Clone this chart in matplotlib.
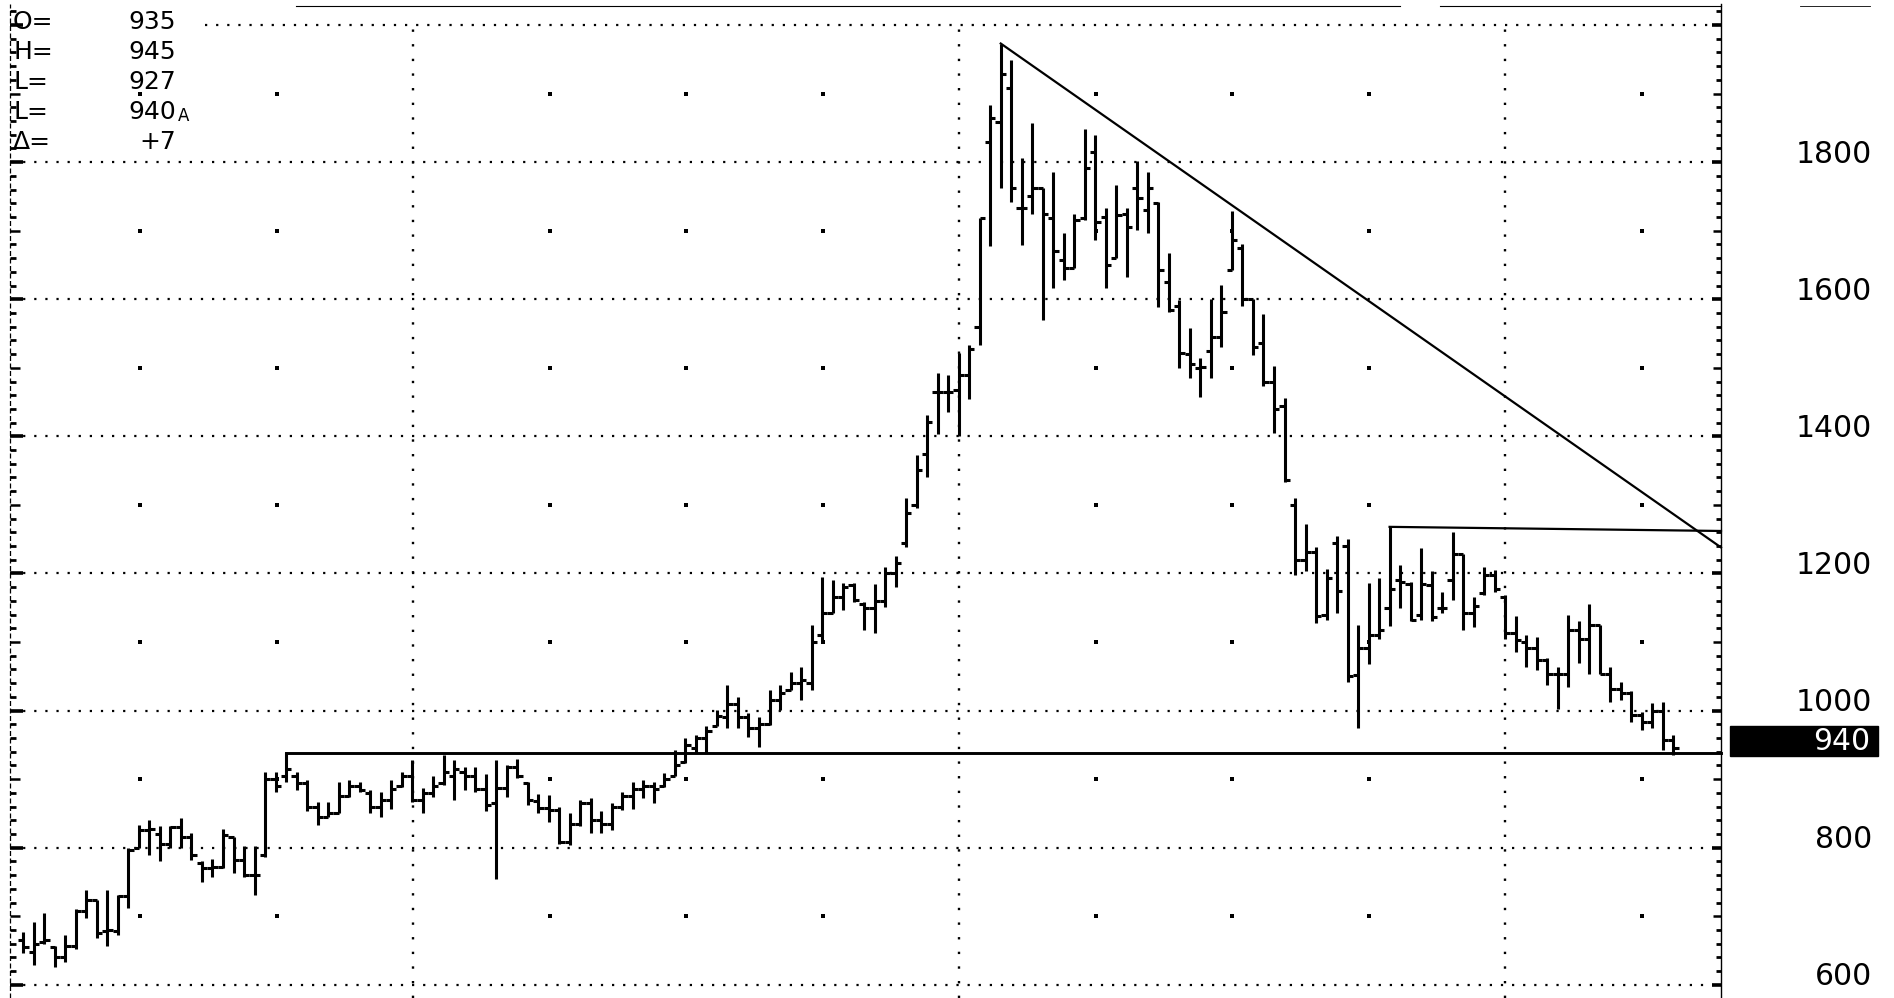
import matplotlib
matplotlib.use("Agg")
import matplotlib.pyplot as plt
from matplotlib.collections import LineCollection
from matplotlib.patches import Rectangle

# ---------------- data (weekly OHLC bars) ----------------
opens = [665, 648, 662, 655, 641, 657, 708, 724, 678, 678,
         730, 800, 826, 820, 805, 830, 815, 778, 770, 772,
         815, 782, 760, 790, 900, 905, 905, 895, 860, 845,
         850, 875, 890, 880, 860, 870, 890, 905, 870, 880,
         895, 905, 910, 905, 885, 865, 887, 918, 895, 868,
         858, 855, 808, 835, 865, 840, 835, 860, 875, 885,
         890, 890, 905, 925, 945, 960, 977, 990, 1010, 990,
         975, 980, 1015, 1030, 1040, 1040, 1110, 1142, 1165, 1183,
         1155, 1150, 1160, 1200, 1245, 1300, 1375, 1465, 1465, 1468,
         1490, 1560, 1830, 1859, 1908, 1733, 1750, 1762, 1718, 1657,
         1645, 1718, 1815, 1720, 1660, 1725, 1762, 1730, 1740, 1625,
         1590, 1520, 1500, 1525, 1545, 1643, 1675, 1600, 1536, 1480,
         1445, 1300, 1219, 1232, 1140, 1245, 1240, 1052, 1091, 1110,
         1150, 1190, 1185, 1140, 1183, 1150, 1190, 1229, 1142, 1171,
         1198, 1165, 1113, 1100, 1091, 1074, 1054, 1054, 1118, 1105,
         1125, 1054, 1032, 1025, 994, 984, 1000, 957]
highs = [677, 691, 705, 656, 673, 710, 738, 724, 738, 731,
         799, 833, 840, 831, 831, 843, 821, 780, 784, 828,
         816, 802, 802, 911, 911, 940, 911, 899, 867, 867,
         896, 899, 896, 884, 882, 899, 911, 928, 887, 904,
         935, 928, 918, 918, 908, 928, 921, 930, 896, 879,
         877, 860, 850, 870, 872, 853, 865, 882, 896, 899,
         896, 909, 943, 960, 964, 977, 1001, 1037, 1020, 996,
         991, 1030, 1037, 1057, 1064, 1125, 1195, 1190, 1186, 1186,
         1159, 1185, 1210, 1225, 1310, 1373, 1431, 1492, 1489, 1521,
         1533, 1718, 1883, 1973, 1949, 1806, 1857, 1762, 1786, 1696,
         1725, 1849, 1840, 1733, 1767, 1733, 1801, 1786, 1742, 1667,
         1599, 1558, 1514, 1601, 1621, 1728, 1680, 1600, 1578, 1503,
         1456, 1310, 1272, 1239, 1207, 1255, 1251, 1125, 1186, 1193,
         1268, 1212, 1187, 1237, 1203, 1173, 1261, 1229, 1166, 1210,
         1205, 1169, 1138, 1110, 1108, 1076, 1064, 1139, 1130, 1156,
         1125, 1064, 1042, 1028, 998, 1011, 1013, 964]
lows = [646, 629, 660, 626, 634, 653, 697, 668, 656, 673,
        712, 799, 789, 780, 799, 799, 782, 750, 758, 770,
        763, 758, 731, 787, 882, 896, 884, 853, 833, 845,
        850, 874, 882, 850, 845, 857, 889, 867, 850, 874,
        891, 870, 884, 882, 853, 754, 874, 901, 862, 850,
        838, 806, 804, 831, 821, 821, 826, 855, 857, 872,
        865, 889, 904, 923, 938, 938, 977, 974, 974, 962,
        947, 979, 1001, 1030, 1016, 1030, 1103, 1142, 1147, 1159,
        1118, 1113, 1151, 1180, 1238, 1295, 1341, 1404, 1436, 1400,
        1455, 1533, 1677, 1762, 1742, 1679, 1725, 1570, 1616, 1628,
        1645, 1716, 1686, 1616, 1660, 1633, 1701, 1696, 1589, 1582,
        1499, 1485, 1458, 1485, 1531, 1642, 1590, 1518, 1474, 1405,
        1333, 1198, 1203, 1128, 1132, 1143, 1042, 975, 1068, 1104,
        1123, 1149, 1131, 1132, 1130, 1142, 1161, 1118, 1122, 1168,
        1173, 1105, 1086, 1064, 1059, 1037, 1003, 1035, 1069, 1054,
        1054, 1013, 1015, 984, 972, 974, 943, 935]
closes = [655, 660, 665, 640, 657, 708, 724, 676, 680, 729,
          797, 826, 828, 805, 830, 815, 790, 770, 772, 818,
          782, 760, 760, 900, 890, 915, 895, 860, 845, 850,
          875, 890, 884, 860, 870, 885, 905, 870, 880, 890,
          910, 915, 905, 885, 862, 887, 918, 905, 870, 858,
          855, 808, 835, 865, 840, 835, 860, 875, 885, 890,
          885, 900, 920, 950, 960, 970, 992, 1010, 990, 975,
          980, 1015, 1025, 1040, 1045, 1100, 1142, 1165, 1180, 1162,
          1150, 1160, 1200, 1215, 1288, 1351, 1421, 1465, 1465, 1490,
          1528, 1718, 1864, 1929, 1762, 1733, 1762, 1725, 1670, 1645,
          1716, 1791, 1713, 1650, 1723, 1705, 1747, 1762, 1643, 1584,
          1521, 1506, 1501, 1545, 1582, 1686, 1600, 1530, 1480, 1440,
          1336, 1220, 1232, 1138, 1193, 1175, 1051, 1091, 1110, 1118,
          1177, 1187, 1132, 1185, 1137, 1149, 1229, 1142, 1152, 1198,
          1178, 1113, 1103, 1091, 1074, 1054, 1054, 1118, 1105, 1125,
          1054, 1032, 1025, 994, 984, 1000, 957, 945]

header_keys = ["O=", "H=", "L=", "L=", "\u0394="]
header_vals = ["935", "945", "927", "940", "+7"]
axis_labels = [600, 800, 1000, 1200, 1400, 1600, 1800]
last_label = "940"
support_level = 938
support_start = 25          # bar index where the support line starts
resist_start, resist_levels = 130, (1268, 1262)
trend_start, trend_levels = 93, (1973, 1238)

# ---------------- geometry helpers (pixel <-> data) ----------------
W, H = 1894, 998
X0, DX = 23.3, 10.51
Y0, DY = 25.0, 0.6856


def px2i(px):
    return (px - X0) / DX


def py2v(py):
    return 2000 - (py - Y0) / DY


fig = plt.figure(figsize=(W / 100, H / 100), dpi=100)
fig.patch.set_facecolor("white")
ax = fig.add_axes([0, 0, 1, 1])
ax.set_xlim(px2i(0), px2i(W))
ax.set_ylim(py2v(H), py2v(0))
ax.axis("off")

x_left_axis = px2i(10)
x_right_axis = px2i(1721)
ypx = 1 / DY            # one pixel in value units
xpx = 1 / DX            # one pixel in index units

# ---------------- grid ----------------
for lvl in range(600, 2001, 200):
    xs = px2i(205) if lvl == 2000 else x_left_axis + 2 * xpx
    ax.plot([xs, x_right_axis], [lvl, lvl], color="black", lw=1.6,
            ls=(0, (1, 4)), zorder=1)
majors = [37.1, 89.05, 141.0]
for xm in majors:
    ax.plot([xm, xm], [py2v(H), 2000], color="black", lw=1.7,
            ls=(0, (1, 5.2)), zorder=1)
quarters = [majors[0] + k * 13 for k in (-2, -1)] + \
           [m + k * 13 for m in majors for k in (1, 2, 3)]
quarters = [q for q in quarters if q < x_right_axis - 1]
for xq in quarters:
    for lvl in range(700, 2000, 200):
        ax.plot(xq, lvl, marker="s", ms=2.2, color="black", mew=0, zorder=1)

# ---------------- axes lines and ticks ----------------
ax.plot([x_right_axis, x_right_axis], [py2v(H), py2v(4)], color="black",
        lw=1.0, zorder=2)
ax.plot([x_left_axis, x_left_axis], [py2v(H), py2v(4)], color="black",
        lw=0.9, ls=(0, (4, 2)), zorder=2)
tick_segs_r, tick_segs_l, tick_lw_r, tick_lw_l = [], [], [], []
for lvl in range(580, 2040, 20):
    if lvl % 200 == 0:
        lr, ll, w = 9, 13, 2.6
    elif lvl % 100 == 0:
        lr, ll, w = 8, 10, 1.8
    else:
        lr, ll, w = 5, 6, 2.0
    tick_segs_r.append([(x_right_axis - lr * xpx, lvl), (x_right_axis, lvl)])
    tick_segs_l.append([(x_left_axis, lvl), (x_left_axis + ll * xpx, lvl)])
    tick_lw_r.append(w)
    tick_lw_l.append(w)
ax.add_collection(LineCollection(tick_segs_r, colors="black",
                                 linewidths=tick_lw_r, zorder=2))
ax.add_collection(LineCollection(tick_segs_l, colors="black",
                                 linewidths=tick_lw_l, zorder=2))

# top border remnants
ax.plot([px2i(296), px2i(1400)], [py2v(6), py2v(6)], color="black", lw=0.8)
ax.plot([px2i(1440), px2i(1721)], [py2v(6), py2v(6)], color="black", lw=0.8)
ax.plot([px2i(1800), px2i(1870)], [py2v(6), py2v(6)], color="black", lw=0.6)

# ---------------- OHLC bars ----------------
segs = []
half = 0.5
for i, (o, h, l, c) in enumerate(zip(opens, highs, lows, closes)):
    segs.append([(i, l), (i, h)])
    segs.append([(i - half, o), (i, o)])
    segs.append([(i, c), (i + half, c)])
ax.add_collection(LineCollection(segs, colors="black", linewidths=2.2,
                                 capstyle="butt", zorder=4))

# ---------------- trend / level lines ----------------
ax.plot([support_start, x_right_axis], [support_level, support_level],
        color="black", lw=2.1, zorder=3)
ax.plot([resist_start, x_right_axis], list(resist_levels),
        color="black", lw=1.6, zorder=3)
ax.plot([trend_start, x_right_axis], list(trend_levels),
        color="black", lw=1.6, zorder=3)

# ---------------- right labels ----------------
for lvl in axis_labels:
    ax.text(px2i(1872), lvl + 8 * ypx, str(lvl), ha="right", va="center",
            fontsize=21.5, family="DejaVu Sans", color="black")
ax.add_patch(Rectangle((px2i(1730), py2v(756)), (1878 - 1730) * xpx,
                       30 * ypx, facecolor="black", edgecolor="black",
                       zorder=5))
ax.text(px2i(1870), py2v(741), last_label, ha="right", va="center",
        fontsize=21.5, family="DejaVu Sans", color="white", zorder=6)

# ---------------- header ----------------
rows_y = [22, 52, 82, 112, 142]
for key, val, ry in zip(header_keys, header_vals, rows_y):
    fig.text(13 / W, 1 - ry / H, key, ha="left", va="center", fontsize=18,
             family="DejaVu Sans")
    fig.text(176 / W, 1 - ry / H, val, ha="right", va="center", fontsize=18,
             family="DejaVu Sans")
fig.text(178 / W, 1 - 121 / H, "A", ha="left", va="baseline", fontsize=12,
         family="DejaVu Sans")

fig.savefig("out.png", dpi=100, facecolor="white")
